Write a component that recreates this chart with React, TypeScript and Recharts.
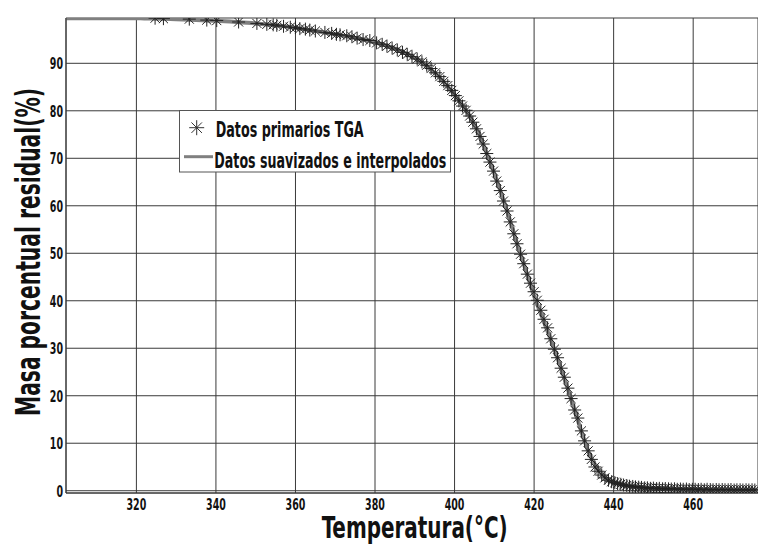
import { CartesianGrid, ComposedChart, Legend, Line, Scatter, XAxis, YAxis } from "recharts";

const W = 758;
const H = 549;
const LINE_GRAY = "#808080";
const INK = "#111111";
const GRID = "#3a3a3a";
const FONT = "'DejaVu Sans Condensed', 'Liberation Sans Narrow', sans-serif";

// smoothed / interpolated TGA curve (°C, % residual mass)
const curveTemp = [
  302.3, 310, 318, 322, 326, 330, 335, 340, 345, 350,
  355, 360, 365, 370, 375, 380, 384, 388, 391, 394,
  396, 398, 400, 402, 404, 406, 408, 410, 412, 414,
  416, 418, 420, 422, 424, 426, 428, 430, 432, 434,
  436, 438, 440, 442, 445, 450, 455, 460, 465, 470, 476.3,
];
const curveMass = [
  99.5, 99.5, 99.5, 99.45, 99.38, 99.28, 99.12, 98.95, 98.7, 98.4,
  98.0, 97.45, 96.8, 96.1, 95.3, 94.45, 93.4, 92.0, 90.6, 88.7,
  87.2, 85.3, 83.4, 81.2, 78.6, 75.4, 71.2, 66.8, 62.0, 56.8,
  51.3, 46.2, 41.0, 36.6, 32.2, 27.6, 22.6, 17.5, 12.2, 7.6,
  4.6, 2.8, 1.8, 1.2, 0.8, 0.5, 0.38, 0.3, 0.25, 0.22, 0.2,
];

// raw instrument readings
const rawTemp = [
  324.7, 326.8, 333.3, 337.7, 340.2, 345.7, 350.3,
  352.8, 354.4, 355.3, 357.0, 358.7, 360.0, 361.1, 362.5, 363.6, 365.0,
  367.4, 369.1, 370.3, 371.2, 372.9, 374.2, 375.5, 377.0, 378.7, 380.4,
  381.8, 383.0, 384.3, 385.6, 386.9, 388.1, 389.3, 390.6, 391.8, 393.0,
  394.1, 395.2, 396.3, 397.3, 398.3, 399.3,
  400.2, 401.1, 402.0, 402.9, 403.8, 404.6, 405.5, 406.4, 407.2, 408.1,
  408.9, 409.8, 410.6, 411.5, 412.3, 413.2, 414.0, 414.9, 415.7, 416.6,
  417.4, 418.3, 419.1, 420.0, 420.8, 421.7, 422.5, 423.4, 424.2, 425.1,
  425.9, 426.8, 427.6, 428.5, 429.3, 430.2, 431.0, 431.9, 432.7, 433.6,
  434.4, 435.3, 436.1, 437.0, 437.8, 438.7, 439.5,
  440.3, 441.0, 441.8, 442.5, 443.3, 444.0, 444.8, 445.5, 446.3, 447.0,
  447.8, 448.5, 449.3, 450.0, 450.8, 451.5, 452.3, 453.0, 453.8, 454.5,
  455.3, 456.0, 456.8, 457.5, 458.3, 459.0, 459.8, 460.5, 461.3, 462.0,
  462.8, 463.5, 464.3, 465.0, 465.8, 466.5, 467.3, 468.0, 468.8, 469.5,
  470.3, 471.0, 471.8, 472.5, 473.3, 474.0, 474.8, 475.5,
];
const rawMass = [
  99.5, 99.4, 99.3, 99.1, 99.0, 98.7, 98.4,
  98.2, 98.1, 98.0, 97.8, 97.6, 97.5, 97.3, 97.2, 97.0, 96.8,
  96.5, 96.3, 96.1, 96.0, 95.8, 95.6, 95.3, 95.0, 94.8, 94.3,
  94.0, 93.6, 93.2, 92.8, 92.3, 91.9, 91.4, 90.9, 90.3, 89.6,
  88.9, 88.0, 87.2, 86.2, 85.3, 84.3,
  83.2, 82.1, 81.0, 80.1, 78.9, 77.6, 76.2, 74.6, 73.0, 71.0,
  69.2, 67.3, 65.2, 63.2, 61.0, 58.9, 56.6, 54.1, 52.0, 49.8,
  47.8, 45.6, 43.7, 41.9, 40.1, 38.0, 36.1, 34.3, 32.0, 29.8,
  28.0, 25.8, 23.9, 21.6, 19.4, 17.0, 15.3, 12.6, 10.5, 8.4,
  6.6, 5.0, 4.1, 3.3, 2.7, 2.2, 1.9,
  1.7, 1.5, 1.35, 1.2, 1.1, 0.95, 0.9, 0.8, 0.75, 0.7,
  0.6, 0.6, 0.5, 0.55, 0.45, 0.5, 0.4, 0.45, 0.4, 0.35,
  0.4, 0.3, 0.35, 0.3, 0.35, 0.25, 0.3, 0.3, 0.25, 0.3,
  0.2, 0.3, 0.25, 0.2, 0.25, 0.2, 0.25, 0.2, 0.2, 0.25,
  0.15, 0.2, 0.2, 0.15, 0.2, 0.15, 0.2, 0.15,
];

const xTicks = [320, 340, 360, 380, 400, 420, 440, 460];
const yTicks = [0, 10, 20, 30, 40, 50, 60, 70, 80, 90];

const curveData = curveTemp.map((t, i) => ({ t, m: curveMass[i] }));
const rawData = rawTemp.map((t, i) => ({ t, m: rawMass[i] }));

function Asterisk({ cx, cy, r = 6.5, color = "#222" }: { cx?: number; cy?: number; r?: number; color?: string }) {
  if (cx == null || cy == null) return null;
  const d = r * 0.7;
  return (
    <g stroke={color} strokeWidth={1} fill="none">
      <line x1={cx - r} y1={cy} x2={cx + r} y2={cy} />
      <line x1={cx} y1={cy - r} x2={cx} y2={cy + r} />
      <line x1={cx - d} y1={cy - d} x2={cx + d} y2={cy + d} />
      <line x1={cx - d} y1={cy + d} x2={cx + d} y2={cy - d} />
    </g>
  );
}

// tall, narrow lettering: condensed bold stretched vertically, run length pinned
function Squeezed({ x, y, len, size, sy = 1.5, children }: any) {
  return (
    <text
      transform={`translate(${x},${y}) scale(1,${sy})`}
      x={0}
      y={0}
      textLength={len}
      lengthAdjust="spacingAndGlyphs"
      fontFamily={FONT}
      fontSize={size}
      fontWeight={700}
      fill={INK}
    >
      {children}
    </text>
  );
}

function XTick({ x, payload }: any) {
  const s = String(payload.value);
  const len = s.length * 6.6;
  return (
    <Squeezed x={x - len / 2} y={510} len={len} size={10.5} sy={1.45}>
      {s}
    </Squeezed>
  );
}

function YTick({ y, payload }: any) {
  const s = String(payload.value);
  const len = s.length * 6.6;
  return (
    <Squeezed x={63 - len} y={y + 6} len={len} size={10.5} sy={1.45}>
      {s}
    </Squeezed>
  );
}

function XTitle() {
  return (
    <Squeezed x={321.7} y={537.5} len={186} size={21.9} sy={1.4}>
      Temperatura(°C)
    </Squeezed>
  );
}

function YTitle() {
  return (
    <g transform="translate(39.5, 252) rotate(-90)">
      <Squeezed x={-164} y={0} len={328} size={22.5} sy={1.52}>
        Masa porcentual residual(%)
      </Squeezed>
    </g>
  );
}

function LegendBox() {
  return (
    <svg width={280} height={64} style={{ display: "block", overflow: "visible" }}>
      <rect x={0.5} y={0.5} width={271} height={61.5} fill="#fff" stroke="#555" />
      <Asterisk cx={17.7} cy={17.7} r={7.5} color="#333" />
      <Squeezed x={36.7} y={26.5} len={148} size={14.1} sy={1.5}>
        Datos primarios TGA
      </Squeezed>
      <line x1={5} y1={46.7} x2={34} y2={46.7} stroke={LINE_GRAY} strokeWidth={3} />
      <Squeezed x={35.3} y={57.5} len={232} size={14.1} sy={1.5}>
        Datos suavizados e interpolados
      </Squeezed>
    </svg>
  );
}

export default function App() {
  return (
    <div style={{ position: "absolute", left: 0, top: 0, width: W, height: H, background: "#fff" }}>
      <ComposedChart width={W} height={H} margin={{ top: 18, right: 0, bottom: 0, left: 0 }}>
        <CartesianGrid stroke={GRID} strokeWidth={1} />
        <XAxis
          type="number"
          dataKey="t"
          domain={[302.3, 476.3]}
          allowDataOverflow
          ticks={xTicks}
          interval={0}
          height={56}
          tickLine={false}
          axisLine={{ stroke: "#333" }}
          tick={<XTick />}
          label={<XTitle />}
        />
        <YAxis
          type="number"
          domain={[-0.48, 99.54]}
          allowDataOverflow
          ticks={yTicks}
          interval={0}
          width={66}
          tickLine={false}
          axisLine={{ stroke: "#333" }}
          tick={<YTick />}
          label={<YTitle />}
        />
        <Legend
          layout="vertical"
          align="center"
          verticalAlign="middle"
          wrapperStyle={{ left: 179, top: 110, width: 280, height: 64 }}
          content={() => <LegendBox />}
        />
        <Scatter
          name="Datos primarios TGA"
          data={rawData}
          dataKey="m"
          isAnimationActive={false}
          shape={(p: any) => <Asterisk cx={p.cx} cy={p.cy} />}
        />
        <Line
          name="Datos suavizados e interpolados"
          data={curveData}
          dataKey="m"
          type="monotone"
          stroke={LINE_GRAY}
          strokeWidth={4}
          dot={false}
          activeDot={false}
          isAnimationActive={false}
        />
      </ComposedChart>
    </div>
  );
}
